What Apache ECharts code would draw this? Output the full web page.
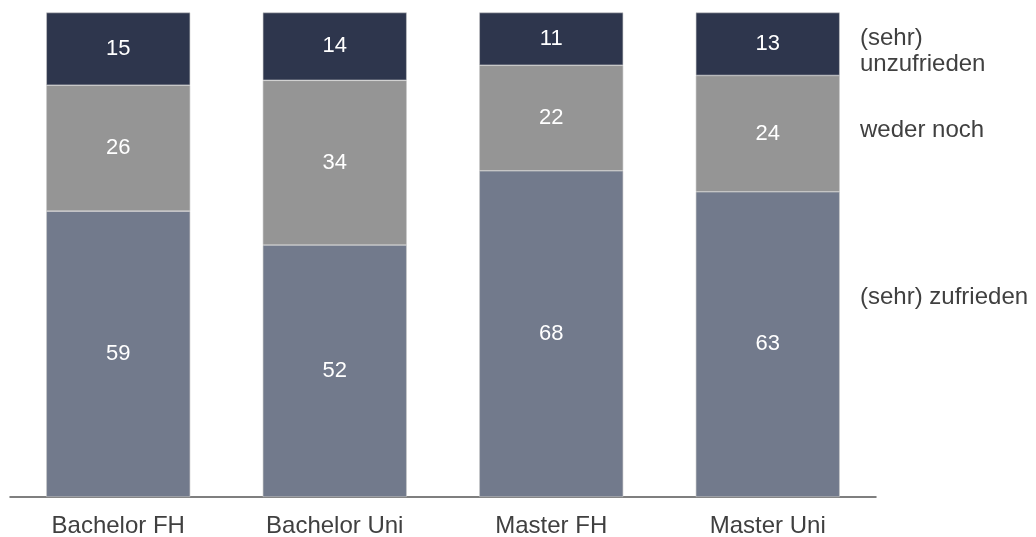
<!DOCTYPE html>
<html>
<head>
<meta charset="utf-8">
<script src="https://cdn.jsdelivr.net/npm/echarts@6/dist/echarts.min.js"></script>
<style>
  html, body { margin: 0; padding: 0; background: #ffffff; }
  #chart { width: 1036px; height: 537px; }
</style>
</head>
<body>
<div id="chart"></div>
<script>
// Zufriedenheit nach Studiengang (Anteile in %)
const categories = ['Bachelor FH', 'Bachelor Uni', 'Master FH', 'Master Uni'];
const zufrieden = [59, 52, 68, 63];
const wederNoch = [26, 34, 22, 24];
const unzufrieden = [15, 14, 11, 13];
const seriesNames = ['(sehr) zufrieden', 'weder noch', '(sehr)\nunzufrieden'];
const seriesColors = ['#727a8c', '#959595', '#2e364d'];

const font = '"Liberation Sans", Arial, sans-serif';

// Each bar is drawn as a 100 % column: segment heights are the shares of the
// column total, while the labels show the rounded percentages.
const totals = categories.map((_, i) => zufrieden[i] + wederNoch[i] + unzufrieden[i]);

function barSeries(name, values, color) {
  return {
    name: name,
    type: 'bar',
    stack: 'total',
    data: values.map((v, i) => ({ value: v * 100 / totals[i], raw: v })),
    barWidth: 144,
    itemStyle: { color: color, borderColor: '#c8c8c8', borderWidth: 0.6 },
    label: {
      show: true,
      position: 'inside',
      color: '#ffffff',
      fontFamily: font,
      fontSize: 22,
      formatter: p => String(p.data.raw)
    },
    emphasis: { disabled: true },
    animation: false
  };
}

const chart = echarts.init(document.getElementById('chart'), null, { renderer: 'canvas' });

chart.setOption({
  animation: false,
  grid: {
    left: 10, right: 160, top: 12.5, bottom: 40,
    containLabel: false,
    outerBoundsMode: 'none'
  },
  xAxis: {
    type: 'category',
    data: categories,
    axisLine: { show: true, lineStyle: { color: '#555555', width: 1.5 } },
    axisTick: { show: false },
    axisLabel: { color: '#404040', fontFamily: font, fontSize: 24, margin: 17 }
  },
  yAxis: {
    type: 'value',
    min: 0,
    max: 100,
    show: false,
    splitLine: { show: false }
  },
  series: [
    barSeries(seriesNames[0], zufrieden, seriesColors[0]),
    barSeries(seriesNames[1], wederNoch, seriesColors[1]),
    barSeries(seriesNames[2], unzufrieden, seriesColors[2])
  ],
  graphic: [
    {
      type: 'text', left: 860, top: 25,
      style: { text: seriesNames[2], fill: '#404040', font: '24px ' + font, lineHeight: 26 }
    },
    {
      type: 'text', left: 860, top: 118,
      style: { text: seriesNames[1], fill: '#404040', font: '24px ' + font }
    },
    {
      type: 'text', left: 860, top: 285,
      style: { text: seriesNames[0], fill: '#404040', font: '24px ' + font }
    }
  ]
});
</script>
</body>
</html>
